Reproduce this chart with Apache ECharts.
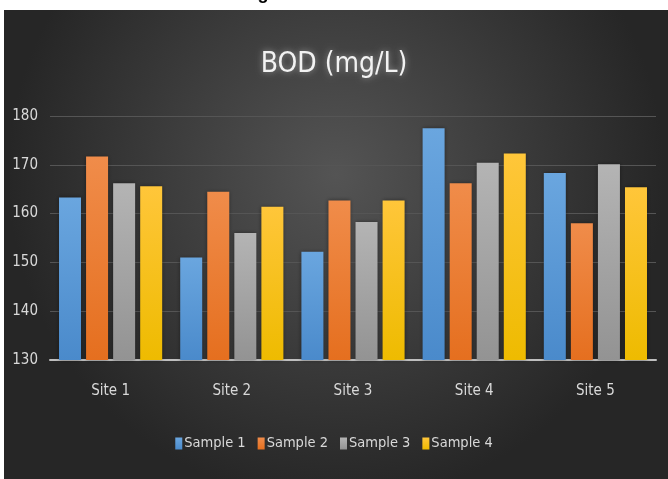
<!DOCTYPE html>
<html><head><meta charset="utf-8">
<script src="https://cdn.jsdelivr.net/npm/echarts@6/dist/echarts.min.js"></script>
<style>html,body{margin:0;padding:0;background:#fff;}#c{width:668px;height:479px;}</style>
</head><body><div id="c"></div>
<script>
const categories = ['Site 1','Site 2','Site 3','Site 4','Site 5'];
const seriesNames = ['Sample 1','Sample 2','Sample 3','Sample 4'];
const sample1 = [163.3, 151.0, 152.2, 177.5, 168.3];
const sample2 = [171.7, 164.5, 162.7, 166.2, 158.0];
const sample3 = [166.2, 156.0, 158.3, 170.4, 170.1];
const sample4 = [165.6, 161.4, 162.7, 172.3, 165.4];
const yTicks = [130, 140, 150, 160, 170, 180];
const colors = [['#6aa6df','#4a8acb'],['#f08c4a','#e56f1f'],['#b4b4b4','#939393'],['#ffc63a','#eebb00']];
const FONT = '"DejaVu Sans Condensed", "Liberation Sans Narrow", "Noto Sans", sans-serif';

const chart = echarts.init(document.getElementById('c'));
const data = [sample1, sample2, sample3, sample4];
chart.setOption({
  animation: false,
  graphic: [
    {type:'text', left: 'center', top: -15, z: 0, style:{text:'Fig 3: Results of BOD', font:'bold 18px "Liberation Sans", sans-serif', fill:'#000'}},
    {type:'rect', shape:{x:4, y:10, width:664, height:469}, z:-10, silent:true,
     style:{fill:{type:'radial', x:0.5, y:0.35, r:0.7, colorStops:[{offset:0,color:'#545454'},{offset:1,color:'#262626'}]}}}
  ],
  title: {
    text: 'BOD (mg/L)', left: 'center', top: 46,
    textStyle: {color:'#f2f2f2', fontSize: 28, fontWeight: 'normal', fontFamily: FONT,
      textShadowColor:'rgba(255,255,255,0.45)', textShadowBlur: 6}
  },
  legend: {
    data: seriesNames, bottom: 23, left: 'center', itemWidth: 7, itemHeight: 12, itemGap: 12,
    textStyle: {color:'#d9d9d9', fontSize: 14.5, fontFamily: FONT, padding:[0,0,0,-3]},
    icon: 'rect'
  },
  grid: {left: 50, right: 12, top: 116, bottom: 119, containLabel: false},
  xAxis: {
    type: 'category', data: categories,
    axisLine: {lineStyle: {color:'#bfbfbf', width: 2}},
    axisTick: {show:false},
    axisLabel: {color:'#d9d9d9', fontSize: 15, fontFamily: FONT, margin: 24}
  },
  yAxis: {
    type: 'value', min: yTicks[0], max: yTicks[yTicks.length-1], interval: 10,
    axisLine: {show:false}, axisTick: {show:false},
    axisLabel: {color:'#d9d9d9', fontSize: 15, fontFamily: FONT, margin: 12},
    splitLine: {lineStyle: {color:'#555555', width: 1}}
  },
  series: seriesNames.map((n,i) => ({
    name: n, type: 'bar', data: data[i], barWidth: 22, barGap: '23%',
    itemStyle: {color: {type:'linear', x:0, y:0, x2:0, y2:1, colorStops:[{offset:0,color:colors[i][0]},{offset:1,color:colors[i][1]}]},
      shadowColor:'rgba(0,0,0,0.4)', shadowBlur:4}
  }))
});
</script></body></html>
